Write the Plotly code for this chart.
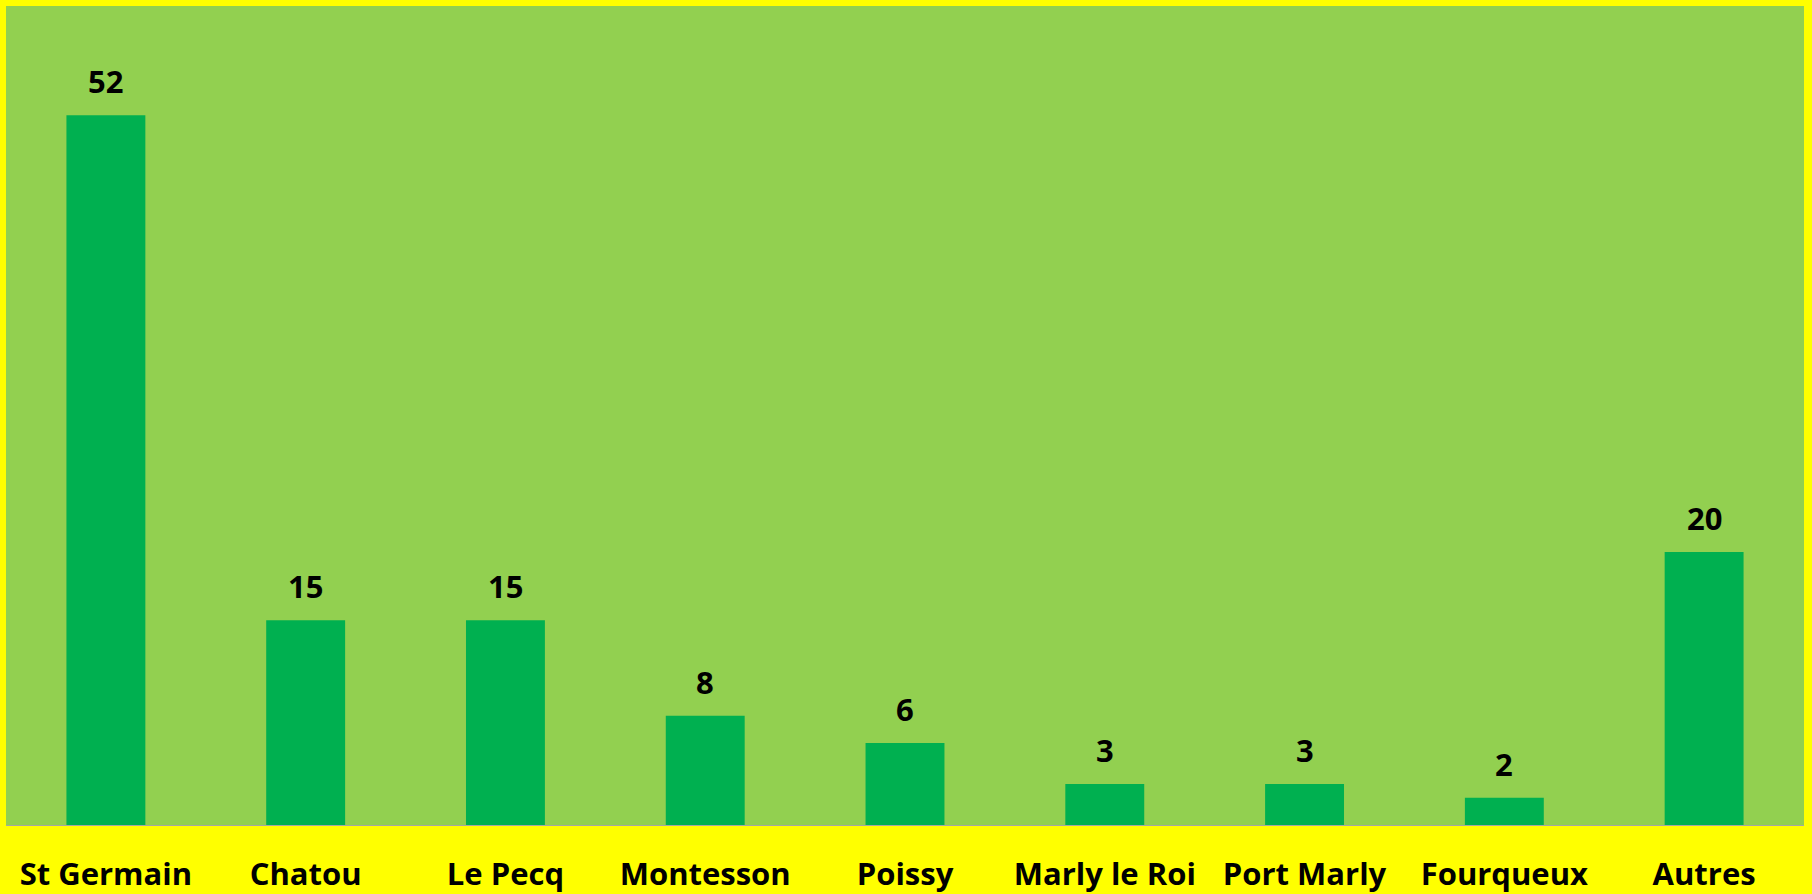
import plotly.graph_objects as go

communes = ['St Germain', 'Chatou', 'Le Pecq', 'Montesson', 'Poissy',
            'Marly le Roi', 'Port Marly', 'Fourqueux', 'Autres']
effectifs = [52, 15, 15, 8, 6, 3, 3, 2, 20]

lbl_font = dict(family='Open Sans', size=31, color='black', weight='bold')

fig = go.Figure()
fig.add_trace(go.Bar(x=communes, y=effectifs, marker=dict(color='#00B050', line=dict(width=0)),
                     hoverinfo='x+y'))

# value labels above each bar
for c, v in zip(communes, effectifs):
    fig.add_annotation(x=c, y=v, text=str(v), showarrow=False, yanchor='bottom', yshift=11,
                       font=lbl_font)

fig.update_layout(
    width=1812, height=894,
    paper_bgcolor='#FFFF00', plot_bgcolor='#92D050',
    margin=dict(l=6, r=8, t=6, b=69, autoexpand=False),
    bargap=0.605, showlegend=False,
    font=dict(family='Open Sans', color='black'),
)
fig.update_xaxes(showline=True, linecolor='#A6A6A6', linewidth=1, ticks='',
                 tickfont=lbl_font, ticklabelstandoff=22, automargin=False)
fig.update_yaxes(range=[0, 60], visible=False, showgrid=False, automargin=False)

fig.write_html('out.html', config={'displayModeBar': False},
               post_script="document.body.style.margin='0';")
